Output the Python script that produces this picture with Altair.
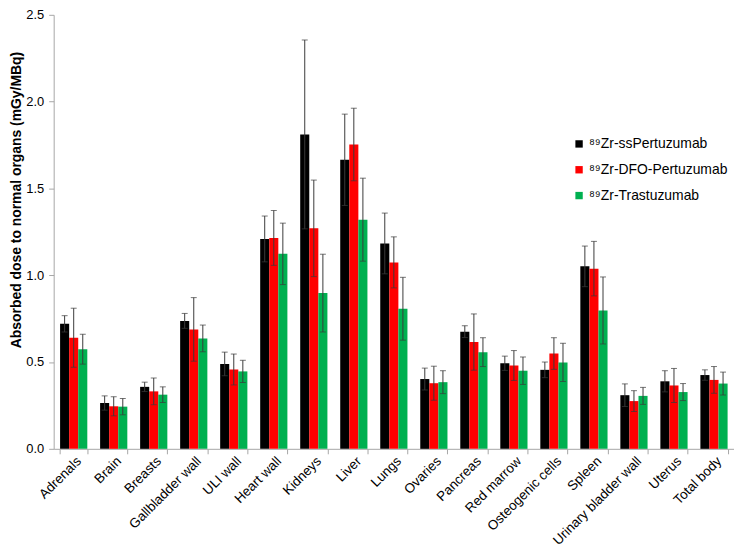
import altair as alt
import pandas as pd

organs = ["Adrenals", "Brain", "Breasts", "Gallbladder wall", "ULI wall", "Heart wall",
          "Kidneys", "Liver", "Lungs", "Ovaries", "Pancreas", "Red marrow",
          "Osteogenic cells", "Spleen", "Urinary bladder wall", "Uterus", "Total body"]

series = ["⁸⁹Zr-ssPertuzumab", "⁸⁹Zr-DFO-Pertuzumab", "⁸⁹Zr-Trastuzumab"]
colors = ["#000000", "#FF0000", "#00B050"]

ss_mean = [0.72, 0.264, 0.357, 0.737, 0.489, 1.209, 1.811, 1.665, 1.183, 0.402, 0.675, 0.493, 0.455, 1.051, 0.309, 0.389, 0.425]
ss_err = [0.047, 0.041, 0.027, 0.043, 0.068, 0.132, 0.544, 0.263, 0.175, 0.063, 0.034, 0.041, 0.045, 0.117, 0.065, 0.061, 0.030]

dfo_mean = [0.64, 0.245, 0.331, 0.688, 0.457, 1.215, 1.27, 1.753, 1.074, 0.378, 0.615, 0.48, 0.549, 1.038, 0.275, 0.365, 0.397]
dfo_err = [0.17, 0.055, 0.077, 0.183, 0.089, 0.158, 0.278, 0.209, 0.147, 0.098, 0.162, 0.086, 0.091, 0.157, 0.060, 0.098, 0.077]

tr_mean = [0.574, 0.243, 0.312, 0.636, 0.446, 1.123, 0.897, 1.32, 0.807, 0.384, 0.557, 0.45, 0.498, 0.797, 0.305, 0.327, 0.376]
tr_err = [0.086, 0.047, 0.045, 0.077, 0.064, 0.177, 0.224, 0.239, 0.181, 0.066, 0.083, 0.079, 0.110, 0.193, 0.049, 0.049, 0.066]

rows = []
for s, means, errs in zip(series, [ss_mean, dfo_mean, tr_mean], [ss_err, dfo_err, tr_err]):
    for o, m, e in zip(organs, means, errs):
        rows.append({"organ": o, "series": s, "value": m, "lo": m - e, "hi": m + e})
df = pd.DataFrame(rows)

FONT = "Liberation Sans"

x_enc = alt.X("organ:N", sort=organs, title=None,
              scale=alt.Scale(paddingInner=0.32, paddingOuter=0.16),
              axis=alt.Axis(labelAngle=-45, labelFontSize=13.5, labelFont=FONT, labelColor="#000000",
                            domainColor="#A6A6A6", tickColor="#A6A6A6", tickBand="extent",
                            tickSize=5, labelPadding=0))
xoff = alt.XOffset("series:N", sort=series)

bars = alt.Chart(df).mark_bar(stroke=None).encode(
    x=x_enc,
    xOffset=xoff,
    y=alt.Y("value:Q", scale=alt.Scale(domain=[0, 2.5], nice=False),
            title="Absorbed dose to normal organs (mGy/MBq)",
            axis=alt.Axis(values=[0, 0.5, 1.0, 1.5, 2.0, 2.5], format=".1f", grid=False,
                          labelFontSize=13, labelFont=FONT, labelColor="#000000", labelPadding=5,
                          titleFont=FONT, titleFontSize=14, titleFontWeight="bold",
                          titleColor="#000000", titleX=-37, titleY=186,
                          titleBaseline="middle", titleAngle=270,
                          domainColor="#A6A6A6", tickColor="#A6A6A6", tickSize=5)),
    color=alt.Color("series:N", sort=series,
                    scale=alt.Scale(domain=series, range=colors),
                    legend=alt.Legend(title=None, orient="none", legendX=522, legendY=123,
                                      symbolType="square", symbolSize=55, symbolStrokeWidth=0,
                                      labelFont=FONT, labelFontSize=14, labelColor="#000000",
                                      rowPadding=12, labelOffset=3)),
)

err = alt.Chart(df).mark_rule(color="#3a3a3a", strokeWidth=1).encode(
    x=alt.X("organ:N", sort=organs),
    xOffset=xoff,
    y="lo:Q",
    y2="hi:Q",
)

cap_lo = alt.Chart(df).mark_tick(color="#3a3a3a", thickness=1, size=6).encode(
    x=alt.X("organ:N", sort=organs),
    xOffset=xoff,
    y="lo:Q",
)
cap_hi = alt.Chart(df).mark_tick(color="#3a3a3a", thickness=1, size=6).encode(
    x=alt.X("organ:N", sort=organs),
    xOffset=xoff,
    y="hi:Q",
)

chart = alt.layer(bars, err, cap_lo, cap_hi).properties(
    width=685, height=437,
    autosize=alt.AutoSizeParams(type="none"),
    padding={"left": 46, "top": 5, "right": 0, "bottom": 100},
).configure_view(stroke=None)

chart.save("out.html", embed_options={"renderer": "svg", "actions": False})
